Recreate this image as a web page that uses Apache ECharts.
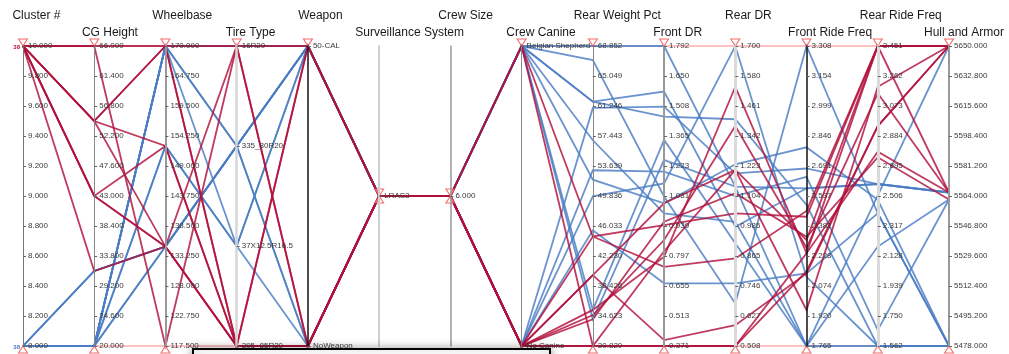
<!DOCTYPE html>
<html>
<head>
<meta charset="utf-8">
<script src="https://cdn.jsdelivr.net/npm/echarts@6/dist/echarts.min.js"></script>
<style>
  html, body { margin: 0; padding: 0; background: #fff; }
  #chart { width: 1009px; height: 354px; }
</style>
</head>
<body>
<div id="chart"></div>
<script>
// ---- Axes -----------------------------------------------------------------
const axisNames = ['Cluster #', 'CG Height', 'Wheelbase', 'Tire Type', 'Weapon',
  'Surveillance System', 'Crew Size', 'Crew Canine', 'Rear Weight Pct', 'Front DR',
  'Rear DR', 'Front Ride Freq', 'Rear Ride Freq', 'Hull and Armor'];

// numeric axes: eleven evenly spaced tick labels, first = min, last = max
const clusterTicks = ['8.000', '8.200', '8.400', '8.600', '8.800', '9.000', '9.200', '9.400', '9.600', '9.800', '10.000'];
const cgTicks = ['20.000', '24.600', '29.200', '33.800', '38.400', '43.000', '47.600', '52.200', '56.800', '61.400', '66.000'];
const wheelbaseTicks = ['117.500', '122.750', '128.000', '133.250', '138.500', '143.750', '149.000', '154.250', '159.500', '164.750', '170.000'];
const rearWeightTicks = ['30.820', '34.623', '38.426', '42.230', '46.033', '49.836', '53.639', '57.443', '61.246', '65.049', '68.852'];
const frontDrTicks = ['0.371', '0.513', '0.655', '0.797', '0.939', '1.081', '1.223', '1.365', '1.508', '1.650', '1.792'];
const rearDrTicks = ['0.508', '0.627', '0.746', '0.865', '0.985', '1.104', '1.223', '1.342', '1.461', '1.580', '1.700'];
const frontRideTicks = ['1.765', '1.920', '2.074', '2.228', '2.382', '2.537', '2.691', '2.846', '2.999', '3.154', '3.308'];
const rearRideTicks = ['1.562', '1.750', '1.939', '2.128', '2.317', '2.506', '2.695', '2.884', '3.073', '3.262', '3.451'];
const hullTicks = ['5478.000', '5495.200', '5512.400', '5529.600', '5546.800', '5564.000', '5581.200', '5598.400', '5615.600', '5632.800', '5650.000'];

// categorical axes, listed bottom to top
const tireTypes = ['395_85R20', '37X12.5R16.5', '335_80R20', '16R20'];
const weapons = ['NoWeapon', '50-CAL'];
const surveillanceSystems = ['LRAS3'];
const crewSizes = ['6.000'];
const canines = ['No Canine', 'Belgian Shepherd'];

// rows per vehicle: cluster, CG, wheelbase, tire, weapon, surveillance, crew, canine,
// rear weight pct, front DR, rear DR, front ride freq, rear ride freq, hull and armor
const clusterHigh = [
  [10, 66.0, 117.5, '16R20', '50-CAL', 'LRAS3', 6, 'Belgian Shepherd', 44.70, 0.944, 1.035, 2.430, 3.451, 5650],
  [10, 66.0, 170.0, '16R20', 'NoWeapon', 'LRAS3', 6, 'No Canine', 30.82, 0.371, 0.508, 2.242, 3.451, 5650],
  [10, 54.5, 170.0, '395_85R20', 'NoWeapon', 'LRAS3', 6, 'No Canine', 39.80, 1.047, 1.208, 1.950, 3.194, 5650],
  [10, 54.5, 170.0, '395_85R20', '50-CAL', 'LRAS3', 6, 'No Canine', 39.80, 0.399, 0.591, 2.138, 2.947, 5650],
  [10, 54.5, 152.5, '395_85R20', 'NoWeapon', 'LRAS3', 6, 'No Canine', 34.75, 0.873, 1.382, 2.270, 3.153, 5566],
  [10, 54.5, 134.9, '395_85R20', 'NoWeapon', 'LRAS3', 6, 'No Canine', 35.40, 0.794, 1.538, 2.242, 2.786, 5566],
  [10, 43.0, 152.5, '395_85R20', 'NoWeapon', 'LRAS3', 6, 'No Canine', 34.20, 0.960, 1.115, 2.327, 2.750, 5562],
  [10, 43.0, 134.9, '16R20', 'NoWeapon', 'LRAS3', 6, 'No Canine', 44.70, 0.746, 0.856, 2.460, 3.451, 5566],
  [10, 43.0, 134.9, '395_85R20', 'NoWeapon', 'LRAS3', 6, 'Belgian Shepherd', 30.82, 0.371, 0.508, 2.150, 2.947, 5650],
  [10, 31.5, 134.9, '395_85R20', '50-CAL', 'LRAS3', 6, 'No Canine', 30.82, 0.820, 1.208, 2.310, 3.451, 5650]
];
const clusterLow = [
  [8, 20.0, 170.0, '16R20', '50-CAL', 'LRAS3', 6, 'Belgian Shepherd', 68.852, 1.792, 1.141, 2.576, 2.582, 5566],
  [8, 20.0, 170.0, '16R20', '50-CAL', 'LRAS3', 6, 'Belgian Shepherd', 67.07, 1.079, 0.677, 3.308, 2.397, 5478],
  [8, 20.0, 170.0, '335_80R20', '50-CAL', 'LRAS3', 6, 'Belgian Shepherd', 61.80, 1.576, 0.982, 2.576, 2.582, 5566],
  [8, 20.0, 170.0, '335_80R20', 'NoWeapon', 'LRAS3', 6, 'Belgian Shepherd', 61.80, 1.457, 1.409, 2.490, 1.562, 5478],
  [8, 20.0, 170.0, '37X12.5R16.5', '50-CAL', 'LRAS3', 6, 'Belgian Shepherd', 56.90, 0.999, 1.001, 1.765, 2.188, 5562],
  [8, 20.0, 152.5, '37X12.5R16.5', '50-CAL', 'LRAS3', 6, 'Belgian Shepherd', 51.90, 1.047, 1.230, 2.787, 2.482, 5478],
  [8, 20.0, 152.5, '37X12.5R16.5', 'NoWeapon', 'LRAS3', 6, 'Belgian Shepherd', 35.40, 1.347, 0.916, 1.765, 2.510, 5650],
  [8, 20.0, 134.9, '335_80R20', '50-CAL', 'LRAS3', 6, 'Belgian Shepherd', 34.20, 1.252, 1.141, 1.765, 1.562, 5478],
  [8, 20.0, 134.9, '335_80R20', '50-CAL', 'LRAS3', 6, 'No Canine', 61.00, 1.505, 1.194, 2.678, 2.582, 5566],
  [8, 31.5, 134.9, '335_80R20', '50-CAL', 'LRAS3', 6, 'No Canine', 53.10, 1.197, 1.104, 2.635, 1.662, 5562],
  [8, 31.5, 134.9, '335_80R20', 'NoWeapon', 'LRAS3', 6, 'No Canine', 49.80, 1.141, 1.700, 2.121, 1.562, 5478],
  [8, 31.5, 134.9, '335_80R20', '50-CAL', 'LRAS3', 6, 'No Canine', 45.50, 0.668, 0.757, 2.138, 2.397, 5478]
];
const clusterCounts = [38, 38];

// ---- Build ----------------------------------------------------------------
const axisScales = [
  { ticks: clusterTicks }, { ticks: cgTicks }, { ticks: wheelbaseTicks },
  { cats: tireTypes }, { cats: weapons }, { cats: surveillanceSystems }, { cats: crewSizes },
  { cats: canines }, { ticks: rearWeightTicks }, { ticks: frontDrTicks }, { ticks: rearDrTicks },
  { ticks: frontRideTicks }, { ticks: rearRideTicks }, { ticks: hullTicks }
];

const axisLineStyles = [
  { color: '#777', width: 1 }, { color: '#888', width: 1 }, { color: '#999', width: 2 },
  { color: '#d6d6d6', width: 2.5 }, { color: '#111', width: 1.5 }, { color: '#cfcfcf', width: 2 },
  { color: '#999', width: 1.5 }, { color: '#888', width: 1 }, { color: '#888', width: 1 },
  { color: '#999', width: 2 }, { color: '#dadada', width: 3 }, { color: '#111', width: 1.5 },
  { color: '#dadada', width: 3 }, { color: '#999', width: 2 }
];

// numeric axes are laid out on their tick index so ticks land on the labelled values
function toAxisSpace(row) {
  return row.map((v, i) => {
    const s = axisScales[i];
    if (s.ticks) {
      const lo = +s.ticks[0], hi = +s.ticks[s.ticks.length - 1];
      return (v - lo) / (hi - lo) * (s.ticks.length - 1);
    }
    return typeof v === 'number' ? v.toFixed(3) : v;
  });
}

const upperBounds = axisScales.map(s => s.ticks ? +s.ticks[s.ticks.length - 1] : s.cats[s.cats.length - 1]);
const lowerBounds = axisScales.map(s => s.ticks ? +s.ticks[0] : s.cats[0]);
const singleValued = axisScales.map(s => !!(s.cats && s.cats.length === 1));

const FONT = 'Liberation Sans, Arial, sans-serif';
const WIDTH = 1009;
const box = { left: 23, right: 60, top: 46, bottom: 8 };

// Titles start a little left of their axis (about a fifth of their width) and stay inside the canvas.
const measure = document.createElement('canvas').getContext('2d');
measure.font = '12px "Liberation Sans"';
const step = (WIDTH - box.left - box.right) / (axisNames.length - 1);
const titleRich = {};
axisNames.forEach((name, i) => {
  const w = measure.measureText(name).width;
  const axisX = box.left + i * step;
  let shift = 0.28 * w;
  shift = Math.min(shift, WIDTH - 5 - w / 2 - axisX);
  const lift = i % 2 === 0 ? 17 : 0;
  titleRich['t' + i] = {
    fontFamily: FONT, fontSize: 12, color: '#1a1a1a',
    padding: shift >= 0 ? [0, 0, lift, 2 * shift] : [0, -2 * shift, lift, 0]
  };
});

const parallelAxis = axisNames.map((name, i) => {
  const s = axisScales[i];
  const base = {
    dim: i,
    axisLine: { show: true, lineStyle: axisLineStyles[i] },
    axisTick: { show: true, inside: true, length: 3, lineStyle: { color: '#666', width: 1 } },
    axisLabel: { show: true, inside: true, margin: 5, fontSize: 8, color: '#3a3a3a', fontFamily: FONT },
    splitLine: { show: false }
  };
  if (s.ticks) {
    base.type = 'value';
    base.min = 0;
    base.max = s.ticks.length - 1;
    base.interval = 1;
    base.axisLabel.formatter = v => s.ticks[Math.round(v)];
  } else {
    base.type = 'category';
    base.data = s.cats;
    base.boundaryGap = s.cats.length === 1;
    base.axisTick.alignWithLabel = true;
  }
  return base;
});

const handleStyle = { color: 'rgba(255,255,255,0.6)', borderColor: '#f04646', borderWidth: 1 };

const chart = echarts.init(document.getElementById('chart'), null, { renderer: 'canvas' });
chart.setOption({
  animation: false,
  backgroundColor: '#ffffff',
  parallel: Object.assign({}, box),
  parallelAxis: parallelAxis,
  grid: Object.assign({ show: false }, box),
  // axis titles, staggered on two rows above the parallel axes
  xAxis: {
    type: 'category', data: axisNames, boundaryGap: false, position: 'top',
    axisLine: { show: false }, axisTick: { show: false }, splitLine: { show: false },
    axisLabel: {
      show: true, interval: 0, hideOverlap: false, margin: 7,
      formatter: (v, idx) => '{t' + idx + '|' + v + '}',
      rich: titleRich
    }
  },
  yAxis: { type: 'value', min: 0, max: 1, show: false },
  series: [
    {
      type: 'parallel', silent: true, z: 1,
      lineStyle: { color: '#ff7878', width: 1, opacity: 0.9 },
      data: [upperBounds, lowerBounds].map(toAxisSpace)
    },
    {
      type: 'parallel', silent: true, z: 2,
      lineStyle: { color: '#4a7cc3', width: 1.8, opacity: 0.82 },
      data: clusterLow.map(toAxisSpace)
    },
    {
      type: 'parallel', silent: true, z: 3,
      lineStyle: { color: '#b1103c', width: 1.8, opacity: 0.82 },
      data: clusterHigh.map(toAxisSpace)
    },
    {
      type: 'scatter', silent: true, z: 6,
      symbol: 'triangle', symbolRotate: 180, symbolSize: [9, 7], symbolOffset: [0, -3.5],
      itemStyle: handleStyle,
      data: singleValued.map((one, i) => [i, one ? 0.5 : 1])
    },
    {
      type: 'scatter', silent: true, z: 6,
      symbol: 'triangle', symbolSize: [9, 7], symbolOffset: [0, 3.5],
      itemStyle: handleStyle,
      data: singleValued.map((one, i) => [i, one ? 0.5 : 0])
    }
  ],
  graphic: [
    { type: 'text', x: 20, y: 47, z: 10, style: { text: String(clusterCounts[0]), fill: '#c0143c', font: 'bold 6px ' + FONT, textAlign: 'right', textVerticalAlign: 'middle' } },
    { type: 'text', x: 20, y: 347, z: 10, style: { text: String(clusterCounts[1]), fill: '#4a7cc3', font: 'bold 6px ' + FONT, textAlign: 'right', textVerticalAlign: 'middle' } },
    { type: 'rect', z: 100, shape: { x: 193, y: 349, width: 357, height: 30 },
      style: { fill: '#ffffff', stroke: '#000', lineWidth: 2, shadowBlur: 10, shadowColor: 'rgba(0,0,0,0.35)' } }
  ]
});
</script>
</body>
</html>
